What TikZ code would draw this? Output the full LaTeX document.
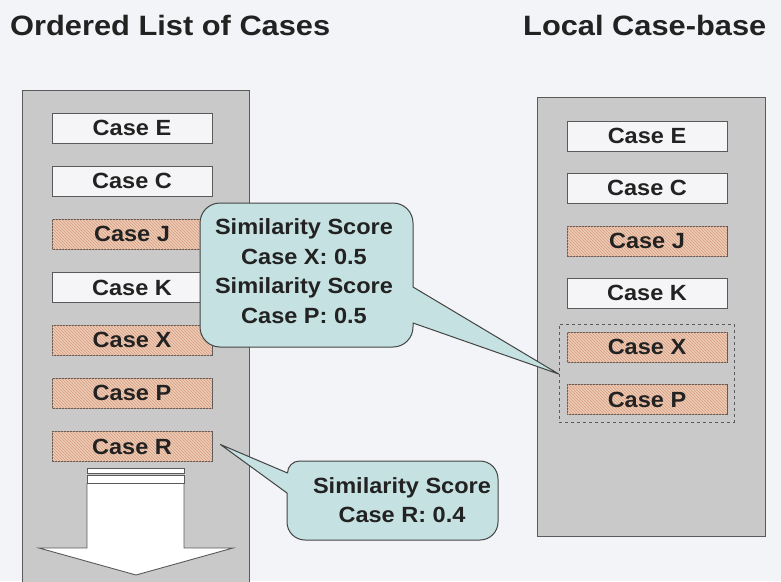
\documentclass[tikz,border=0pt]{standalone}
\usepackage{fontspec}
\usepackage{graphicx}
\setmainfont{Liberation Sans}[BoldFont={Liberation Sans Bold}]
\usetikzlibrary{patterns}
\definecolor{bgc}{HTML}{F3F4F7}
\definecolor{panelc}{HTML}{C9C9C9}
\definecolor{panelline}{HTML}{5A5A5A}
\definecolor{whitebox}{HTML}{F5F5F7}
\definecolor{orangebox}{HTML}{EFCDB8}
\definecolor{hatchc}{HTML}{D49B7D}
\definecolor{bubblec}{HTML}{C6E1E1}
\definecolor{inkc}{HTML}{222222}
\newcommand{\wdx}[1]{\scalebox{1.07}[1]{#1}}
\newcommand{\wdt}[1]{\scalebox{1.1}[1]{#1}}
\tikzset{
  panel/.style={fill=panelc, draw=panelline, line width=0.9pt},
  casebox/.style={draw=panelline, line width=0.9pt, minimum width=160pt, minimum height=30pt,
    inner sep=0pt, text height=15.75pt, text depth=0pt, text=inkc,
    font=\fontsize{22}{26}\selectfont\bfseries},
  plain/.style={casebox, fill=whitebox},
  hot/.style={casebox, fill=orangebox, postaction={pattern=north west lines, pattern color=hatchc}},
  bubble/.style={fill=bubblec, draw=inkc!85, line width=1pt, line join=round},
  btext/.style={align=center, text=inkc, inner sep=0pt, font=\fontsize{22}{29.5}\selectfont\bfseries},
  ttext/.style={text=inkc, inner sep=0pt, font=\fontsize{28}{32}\selectfont\bfseries},
  arrowshape/.style={fill=white, draw=panelline, line width=0.9pt},
}
\begin{document}
\begin{tikzpicture}[x=1pt, y=-1pt]
\fill[bgc] (0,0) rectangle (781,581);
\useasboundingbox (0,0) rectangle (781,581);

% titles
\node[ttext, anchor=base west] (t1) at (10,35) {\wdt{Ordered List of Cases}};
\node[ttext, anchor=base west] (t2) at (523,35) {\wdt{Local Case-base}};

% left panel
\fill[panelc] (22,90) rectangle (249,590);
\draw[panelline, line width=0.9pt] (22,590) -- (22,90) -- (249,90) -- (249,590);

% right panel
\node[panel, minimum width=228pt, minimum height=439pt, inner sep=0pt] (rp) at (651,316.5) {};

% left cases
\node[plain] (lE) at (132,128) {\wdx{Case E}};
\node[plain] (lC) at (132,181) {\wdx{Case C}};
\node[hot]   (lJ) at (132,234) {\wdx{Case J}};
\node[plain] (lK) at (132,287.5) {\wdx{Case K}};
\node[hot]   (lX) at (132,340) {\wdx{Case X}};
\node[hot]   (lP) at (132,393) {\wdx{Case P}};
\node[hot]   (lR) at (132,446.5) {\wdx{Case R}};

% arrow below list
\draw[arrowshape] (87,468) rectangle (184,473);
\draw[arrowshape] (87,475.5) rectangle (184,483.5);
\draw[arrowshape] (87,483.5) -- (87,548) -- (39,548) -- (136,575) -- (233,548) -- (184,548) -- (184,483.5) -- cycle;

% right cases
\node[plain] (rE) at (647,136) {\wdx{Case E}};
\node[plain] (rC) at (647,188) {\wdx{Case C}};
\node[hot]   (rJ) at (647,241) {\wdx{Case J}};
\node[plain] (rK) at (647,293) {\wdx{Case K}};
\node[hot]   (rX) at (647,347) {\wdx{Case X}};
\node[hot]   (rP) at (647,399.5) {\wdx{Case P}};
\node[draw=panelline, dashed, line width=0.7pt, minimum width=175pt, minimum height=98pt, inner sep=0pt] (grp) at (646.5,373) {};
\coordinate (tip1) at ([yshift=-1pt]grp.west);

% bubble 1
\draw[bubble] (220,203) -- (393,203) arc(270:360:20) -- (413,287)
  -- (tip1) -- (413,323) -- (413,327) arc(0:90:20) -- (220,347)
  arc(90:180:20) -- (200,223) arc(180:270:20) -- cycle;
\node[btext] (b1) at (304,271) {\wdx{Similarity Score}\\ \wdx{Case X: 0.5}\\ \wdx{Similarity Score}\\ \wdx{Case P: 0.5}};

% bubble 2
\coordinate (tip2) at ([xshift=8pt,yshift=2pt]lR.east);
\draw[bubble] (299.5,461) -- (480,461) arc(270:360:18) -- (498,522) arc(0:90:18)
  -- (305,540) arc(90:180:18) -- (287,493) -- (tip2) -- (287.5,473)
  arc(180:270:12) -- cycle;
\node[btext] (b2) at (402,500) {\wdx{Similarity Score}\\ \wdx{Case R: 0.4}};
\end{tikzpicture}
\end{document}
